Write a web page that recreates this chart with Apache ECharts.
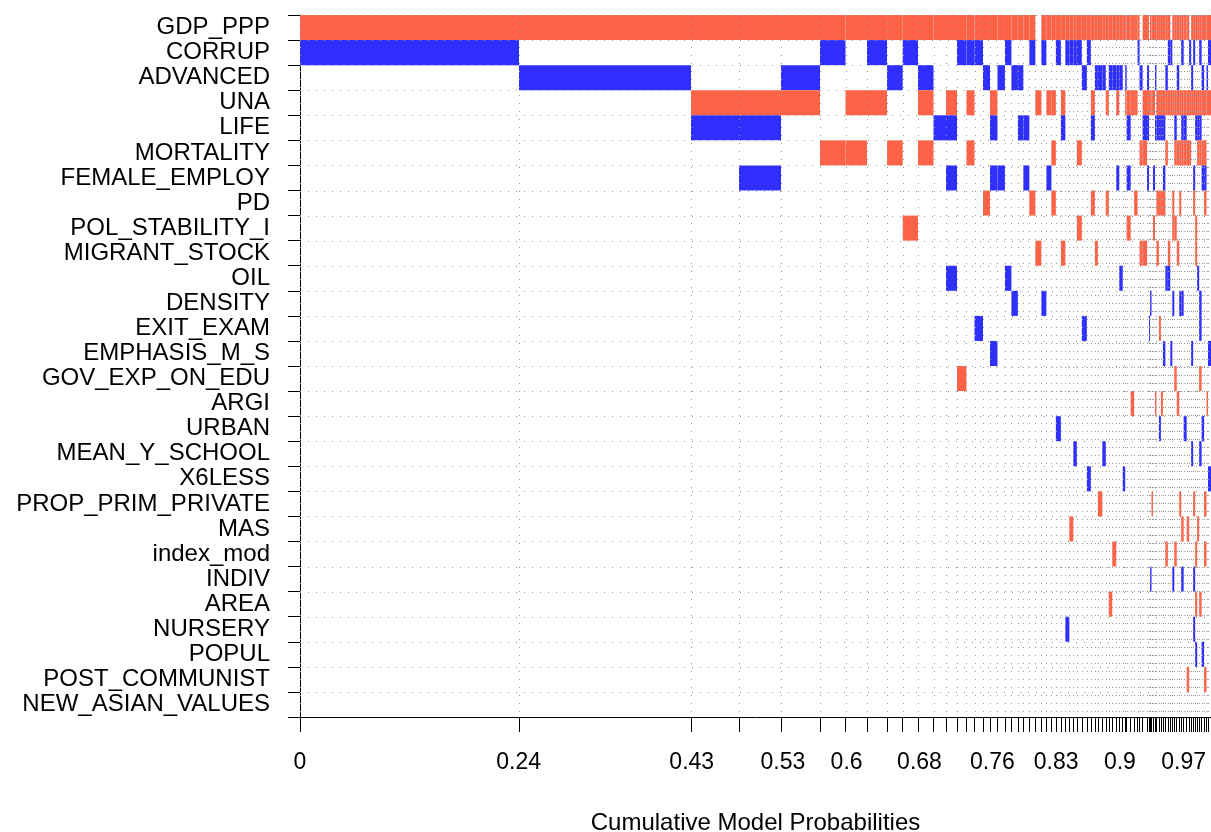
<!DOCTYPE html>
<html><head><meta charset="utf-8">
<script src="https://cdn.jsdelivr.net/npm/echarts@6/dist/echarts.min.js"></script>
<style>html,body{margin:0;padding:0;background:#fff}#chart{width:1211px;height:832px}</style>
</head><body><div id="chart"></div>
<script>
const variables = ['GDP_PPP','CORRUP','ADVANCED','UNA','LIFE','MORTALITY','FEMALE_EMPLOY','PD',
  'POL_STABILITY_I','MIGRANT_STOCK','OIL','DENSITY','EXIT_EXAM','EMPHASIS_M_S','GOV_EXP_ON_EDU',
  'ARGI','URBAN','MEAN_Y_SCHOOL','X6LESS','PROP_PRIM_PRIVATE','MAS','index_mod','INDIV','AREA',
  'NURSERY','POPUL','POST_COMMUNIST','NEW_ASIAN_VALUES'];

// posterior model probabilities (column widths), best model first
const modelProbs = [
  0.2404,0.1888,0.0527,0.0461,0.0428,0.0280,0.0236,0.0220,0.0172,0.0168,
  0.0170,0.0137,0.0121,0.0104,0.0088,0.0093,0.0077,0.0082,0.0082,0.0071,
  0.0071,0.0060,0.0066,0.0066,0.0066,0.0055,0.0055,0.0049,0.0055,0.0049,
  0.0044,0.0044,0.0038,0.0055,0.0055,0.0044,0.0044,0.0033,0.0049,0.0038,
  0.0033,0.0038,0.0044,0.0033,0.0038,0.0027,0.0016,0.0044,0.0038,0.0038,
  0.0022,0.0033,0.0049,0.0022,0.0011,0.0016,0.0016,0.0022,0.0016,0.0027,
  0.0022,0.0022,0.0027,0.0027,0.0027,0.0022,0.0022,0.0027,0.0027,0.0022,
  0.0027,0.0033,0.0027,0.0022,0.0022,0.0022,0.0022,0.0022,0.0027,0.0027,
  0.0027,0.0016,0.0033];

// included variables per model: "index+sign" (+ positive coef, - negative coef)
const modelVars = [
  '0+ 1-','0+ 2-','0+ 3+ 4-','0+ 3+ 4- 6-','0+ 2- 3+','0+ 1- 5+','0+ 3+ 5+','0+ 1- 3+','0+ 2- 5+','0+ 1- 8+',
  '0+ 2- 3+ 5+','0+ 4-','0+ 3+ 4- 6- 10-','0+ 1- 14+','0+ 1- 3+ 5+','0+ 1- 12-','0+ 2- 7+','0+ 3+ 4- 6- 13-','0+ 2- 6-','0+ 1- 10-',
  '0+ 2- 11-','0+ 2- 4-','0+ 4- 6-','0+ 1- 7+','3+ 9+','0+ 1- 11-','0+ 3+ 6-','0+ 3+ 5+ 7+','0+ 1- 16-','0+ 3+ 4- 9+',
  '0+ 1- 24-','0+ 1- 20+','0+ 1- 17-','0+ 1- 5+ 8+','0+ 2- 12-','0+ 1- 18-','0+ 3+ 4- 7+','0+ 2- 9+','0+ 2- 19+','0+ 2- 17-',
  '0+ 3+ 7+','0+ 2- 23+','0+ 2- 21+','0+ 2- 3+ 6-','0+ 2- 10-','0+ 18-','0+ 2- 3+','0+ 3+ 4- 6- 8+','0+ 3+ 15+','0+ 3+ 7+',
  '0+ 1-','2- 5+ 9+','0+ 3+ 4- 5+ 9+','0+ 2- 3+ 4- 6-','3+ 12-','0+ 3+ 11- 22-','0+ 3+ 19+','0+ 3+ 6- 8+','0+ 2- 4- 15+','0+ 3+ 4- 7+ 9+',
  '0+ 3+ 4- 7+ 12+ 16-','0+ 3+ 4- 7+ 15+','0+ 3+ 4- 6- 7+ 13-','0+ 2- 3+ 5+ 10- 21+','0+ 1- 3+ 9+ 10-','1- 3+ 13-','0+ 3+ 7+ 8+ 11- 22-','0+ 3+ 4- 5+ 8+ 14+ 21+','0+ 2- 3+ 5+ 9+ 15+','0+ 3+ 5+ 7+ 11- 19+',
  '0+ 1- 3+ 4- 5+ 11- 20+ 22-','0+ 3+ 4- 5+ 16-','0+ 3+ 5+ 20+ 26+','1- 3+ 5+','0+ 2- 3+ 13- 17-','0+ 1- 3+ 6- 7+ 19+ 22- 24-','0+ 3+ 4- 8+ 9+ 21+ 23+ 25-','0+ 3+ 4- 5+ 10- 20+','0+ 1- 3+ 4- 5+ 11- 12- 14+ 17- 23+','0+ 2- 3+ 5+ 6- 16- 25-',
  '0+ 3+ 5+ 6- 7+ 19+ 21+ 26+','0+ 2- 3+ 15+','0+ 1- 3+ 13- 18-'];

const tickLabels = [0, 0.24, 0.43, 0.53, 0.6, 0.68, 0.76, 0.83, 0.9, 0.97];

const posColor = '#FF6347';
const negColor = '#2F2FFF';
const gridColor = '#999999';
const fontFamily = "'Liberation Sans', Arial, sans-serif";

// cumulative boundaries
const bounds = [0];
modelProbs.forEach(p => bounds.push(+(bounds[bounds.length - 1] + p).toFixed(6)));

const cells = [];
modelVars.forEach((s, m) => {
  s.split(' ').forEach(tok => {
    const idx = parseInt(tok, 10);
    const sign = tok.slice(-1) === '+' ? 1 : -1;
    cells.push([bounds[m], bounds[m + 1], idx, sign]);
  });
});

function renderCell(params, api) {
  const a = api.coord([api.value(0), api.value(2)]);
  const b = api.coord([api.value(1), api.value(2)]);
  const h = Math.abs(api.size([0, 1])[1]);
  return {
    type: 'rect',
    shape: { x: a[0], y: a[1] - h / 2, width: b[0] - a[0], height: h },
    style: { fill: api.value(3) > 0 ? posColor : negColor }
  };
}

function renderVGrid(params, api) {
  const cs = params.coordSys;
  const x = Math.round(api.coord([api.value(0), 0])[0]) + 0.5;
  return {
    type: 'line',
    shape: { x1: x, y1: cs.y, x2: x, y2: cs.y + cs.height },
    style: { stroke: gridColor, lineWidth: 1, lineDash: [1, 7] }
  };
}

function renderHGrid(params, api) {
  const cs = params.coordSys;
  const c = api.coord([0, api.value(0)]);
  const h = Math.abs(api.size([0, 1])[1]);
  const y = Math.round(c[1] - h / 2) + 0.5;
  return {
    type: 'line',
    shape: { x1: cs.x, y1: y, x2: cs.x + cs.width, y2: y },
    style: { stroke: gridColor, lineWidth: 1, lineDash: [1, 7] }
  };
}

const chart = echarts.init(document.getElementById('chart'), null, { renderer: 'canvas' });
chart.setOption({
  animation: false,
  backgroundColor: '#fff',
  grid: { left: 300, right: 0, top: 15, bottom: 115, containLabel: false, outerBoundsMode: 'none' },
  xAxis: {
    type: 'value', min: 0, max: 1,
    name: 'Cumulative Model Probabilities', nameLocation: 'middle', nameGap: 94,
    nameTextStyle: { fontSize: 24, color: '#000', fontFamily },
    axisLine: { show: true, lineStyle: { color: '#000', width: 1 } },
    axisTick: { show: true, length: 15, customValues: bounds, lineStyle: { color: '#000', width: 1 } },
    axisLabel: { customValues: tickLabels, fontSize: 23, color: '#000', fontFamily, margin: 34 },
    splitLine: { show: false }
  },
  yAxis: {
    type: 'category', data: variables, inverse: true,
    axisLine: { show: true, lineStyle: { color: '#000', width: 1 } },
    axisTick: { show: true, length: 12, interval: 0, alignWithLabel: false, lineStyle: { color: '#000' } },
    axisLabel: { interval: 0, fontSize: 24, color: '#000', fontFamily, margin: 30 },
    splitLine: { show: false }
  },
  series: [
    { type: 'custom', renderItem: renderCell, data: cells, encode: { x: [0, 1], y: 2 }, z: 2 },
    { type: 'custom', renderItem: renderVGrid, data: bounds.map(b => [b]), encode: { x: 0 }, z: 3, silent: true },
    { type: 'custom', renderItem: renderHGrid, data: variables.map((v, i) => [i]), encode: { y: 0 }, z: 3, silent: true }
  ]
});
</script>
</body></html>
